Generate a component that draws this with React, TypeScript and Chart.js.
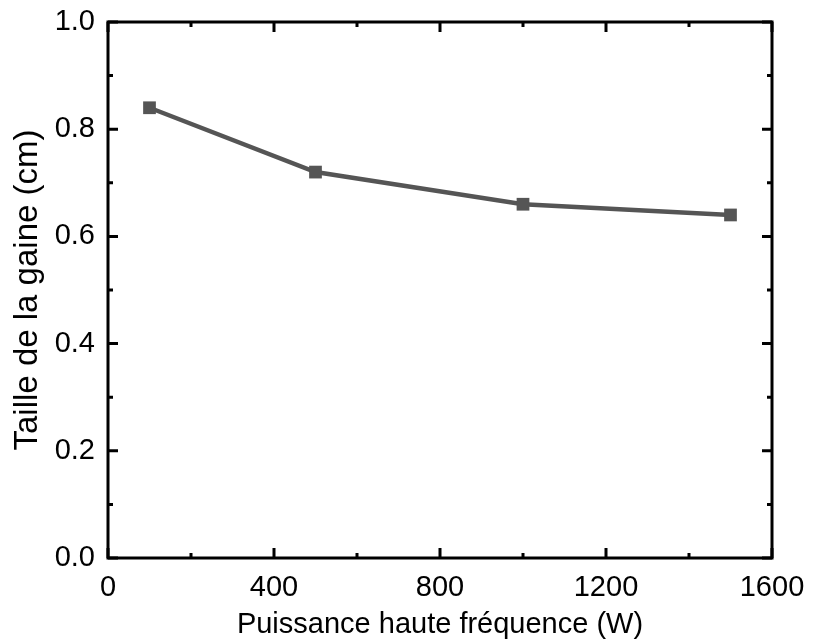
import React, { useEffect, useRef } from "react";
import { Chart, registerables } from "chart.js";

Chart.register(...registerables);

const powerW = [100, 500, 1000, 1500];
const sheathCm = [0.84, 0.72, 0.66, 0.64];
const xMajorTicks = [0, 400, 800, 1200, 1600];
const xMinorTicks = [200, 600, 1000, 1400];
const yMajorTicks = [0, 0.2, 0.4, 0.6, 0.8, 1.0];
const yMinorTicks = [0.1, 0.3, 0.5, 0.7, 0.9];
const xTitle = "Puissance haute fréquence (W)";
const yTitle = "Taille de la gaine (cm)";

const FONT = "'Liberation Sans', Arial, sans-serif";

const framePlugin = {
  id: "frameTicks",
  afterDatasetsDraw(chart: any) {
    const { ctx, chartArea: a, scales } = chart;
    const xs = scales.x;
    const ys = scales.y;
    ctx.save();
    ctx.strokeStyle = "#000";
    ctx.lineWidth = 3;
    ctx.lineCap = "butt";
    const major = 10;
    const minor = 5;
    const drawX = (vals: number[], len: number) => {
      vals.forEach((v) => {
        const px = xs.getPixelForValue(v);
        ctx.beginPath();
        ctx.moveTo(px, a.bottom);
        ctx.lineTo(px, a.bottom - len);
        ctx.moveTo(px, a.top);
        ctx.lineTo(px, a.top + len);
        ctx.stroke();
      });
    };
    const drawY = (vals: number[], len: number) => {
      vals.forEach((v) => {
        const py = ys.getPixelForValue(v);
        ctx.beginPath();
        ctx.moveTo(a.left, py);
        ctx.lineTo(a.left + len, py);
        ctx.moveTo(a.right, py);
        ctx.lineTo(a.right - len, py);
        ctx.stroke();
      });
    };
    drawX(xMajorTicks, major);
    drawX(xMinorTicks, minor);
    drawY(yMajorTicks, major);
    drawY(yMinorTicks, minor);
    ctx.lineJoin = "miter";
    ctx.strokeRect(a.left, a.top, a.right - a.left, a.bottom - a.top);
    ctx.restore();
  },
};

export default function App() {
  const ref = useRef<HTMLCanvasElement | null>(null);
  useEffect(() => {
    document.body.style.margin = "0";
    const chart = new Chart(ref.current as HTMLCanvasElement, {
      type: "line",
      data: {
        datasets: [
          {
            data: powerW.map((x, i) => ({ x, y: sheathCm[i] })),
            borderColor: "#555555",
            backgroundColor: "#555555",
            borderWidth: 4.5,
            pointStyle: "rect",
            pointRadius: 9,
            pointBorderWidth: 0,
            pointHoverRadius: 9,
            tension: 0,
          },
        ],
      },
      options: {
        animation: false,
        responsive: false,
        events: [],
        layout: { padding: { top: 22, right: 41, left: 0, bottom: 0 } },
        plugins: { legend: { display: false }, tooltip: { enabled: false } },
        scales: {
          x: {
            type: "linear",
            min: 0,
            max: 1600,
            afterBuildTicks: (s: any) => {
              s.ticks = xMajorTicks.map((v) => ({ value: v }));
            },
            afterFit: (s: any) => {
              s.height = 84;
              s.paddingLeft = 0;
              s.paddingRight = 0;
            },
            grid: { display: false, drawTicks: false },
            border: { display: false },
            ticks: {
              color: "#000",
              font: { family: FONT, size: 29 },
              padding: 13,
              maxRotation: 0,
              autoSkip: false,
              callback: (v: any) => String(v),
            },
            title: {
              display: true,
              text: xTitle,
              color: "#000",
              font: { family: FONT, size: 29 },
              padding: { top: 0, bottom: 0 },
            },
          },
          y: {
            type: "linear",
            min: 0,
            max: 1.0,
            afterBuildTicks: (s: any) => {
              s.ticks = yMajorTicks.map((v) => ({ value: v }));
            },
            afterFit: (s: any) => {
              s.width = 108;
              s.paddingTop = 0;
              s.paddingBottom = 0;
            },
            grid: { display: false, drawTicks: false },
            border: { display: false },
            ticks: {
              color: "#000",
              font: { family: FONT, size: 29 },
              padding: 13,
              autoSkip: false,
              callback: (v: any) => Number(v).toFixed(1),
            },
            title: {
              display: true,
              text: yTitle,
              color: "#000",
              font: { family: FONT, size: 33 },
              padding: { top: 8, bottom: 0 },
            },
          },
        },
      },
      plugins: [framePlugin],
    });
    return () => chart.destroy();
  }, []);
  return <canvas ref={ref} width={813} height={642} style={{ display: "block" }} />;
}
